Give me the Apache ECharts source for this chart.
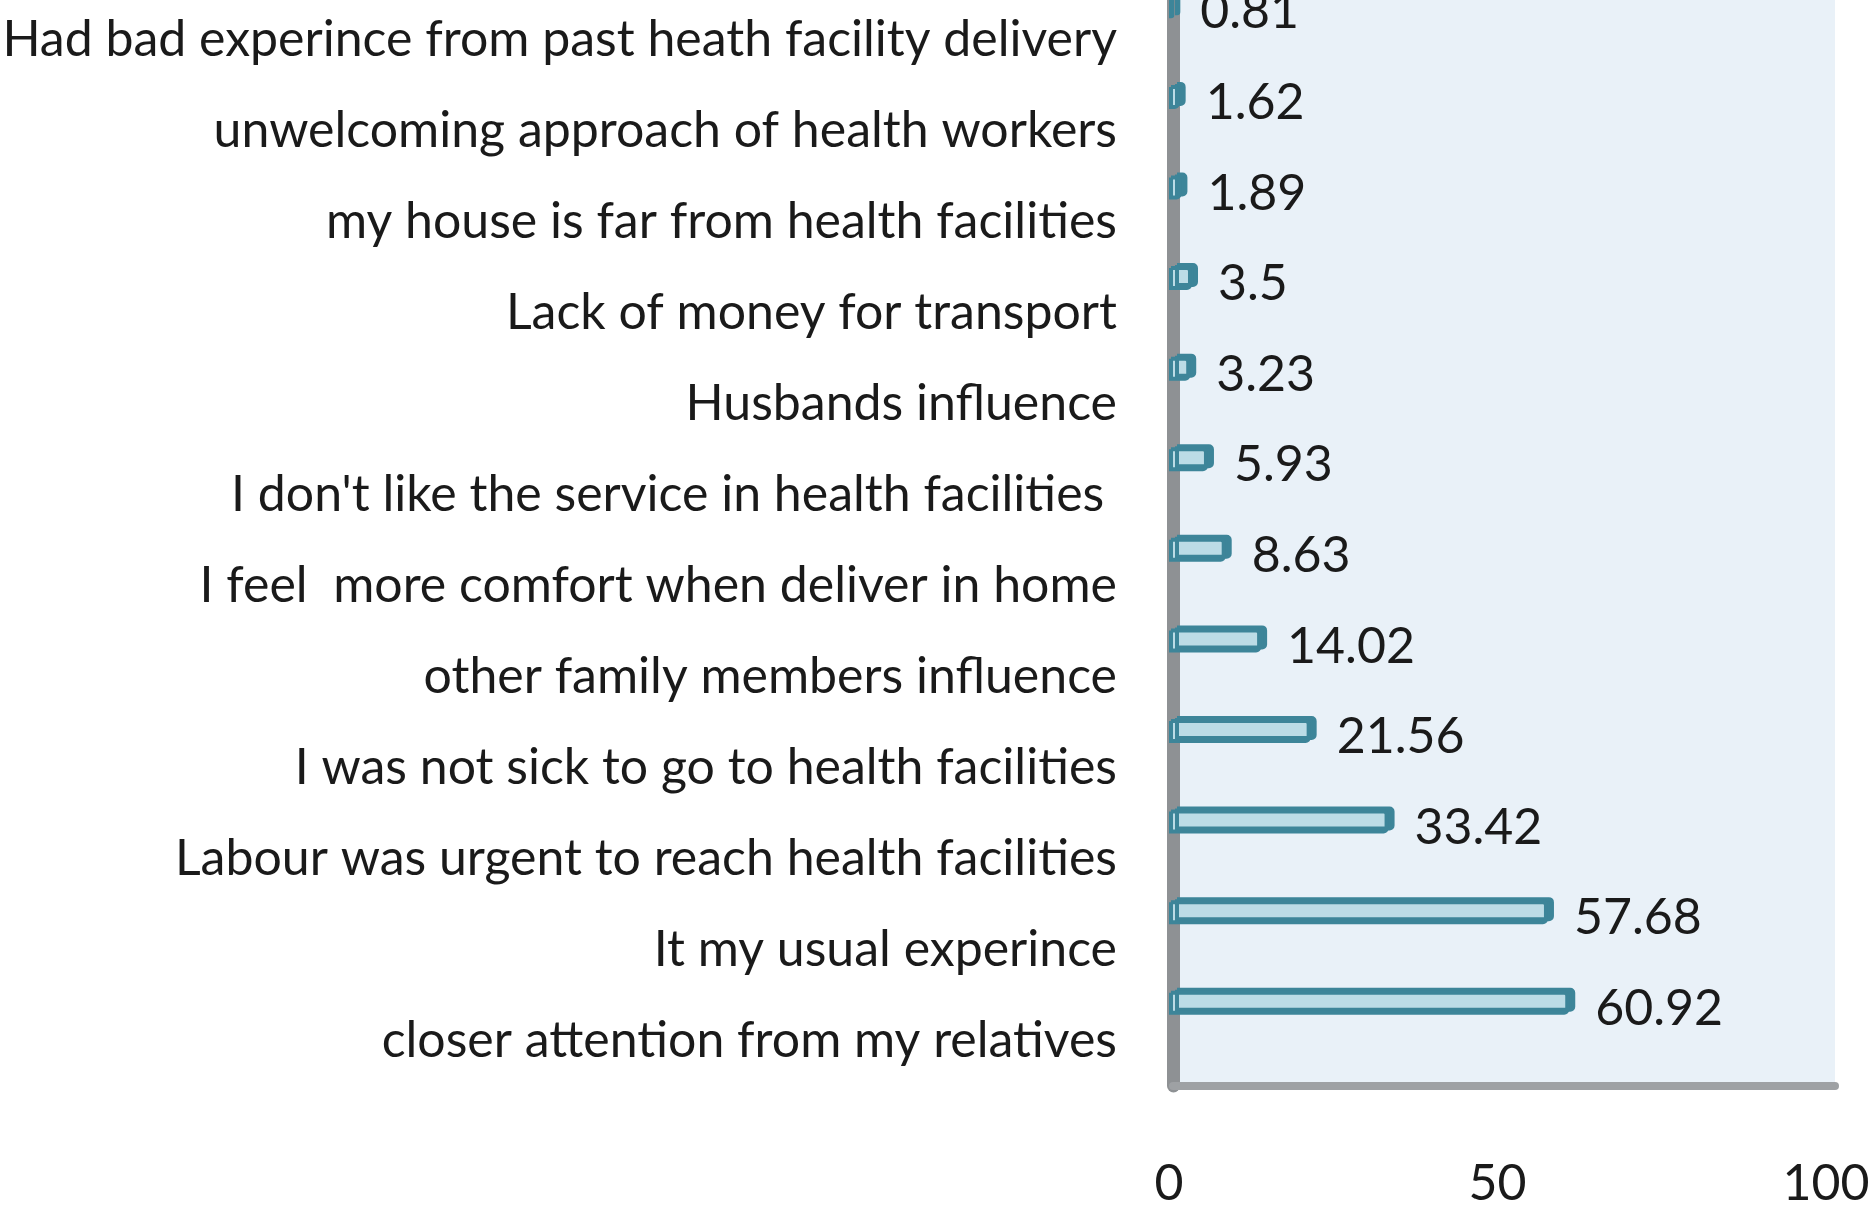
<!DOCTYPE html>
<html>
<head>
<meta charset="utf-8">
<script src="https://cdn.jsdelivr.net/npm/echarts@6/dist/echarts.min.js"></script>
<style>
  html, body { margin: 0; padding: 0; background: #fff; }
  #chart { width: 1868px; height: 1213px; }
</style>
</head>
<body>
<div id="chart"></div>
<script>
// reasons, top to bottom
var reasons = [
  "Had bad experince from past heath facility delivery",
  "unwelcoming approach of health workers",
  "my house is far from health facilities",
  "Lack of money for transport",
  "Husbands influence",
  "I don't like the service in health facilities ",
  "I feel  more comfort when deliver in home",
  "other family members influence",
  "I was not sick to go to health facilities",
  "Labour was urgent to reach health facilities",
  "It my usual experince",
  "closer attention from my relatives"
];
var percents = [0.81, 1.62, 1.89, 3.5, 3.23, 5.93, 8.63, 14.02, 21.56, 33.42, 57.68, 60.92];
var xTicks = [0, 50, 100];

var font = "Lato, 'Open Sans', sans-serif";

var myChart = echarts.init(document.getElementById("chart"));
myChart.setOption({
  animation: false,
  grid: [
    // back plane with wall + floor, carries the category labels
    { left: 1173, right: 33, top: -6, bottom: 127, show: true, containLabel: false,
      outerBoundsMode: "none", backgroundColor: "#E9F1F8", borderWidth: 0 },
    // bars sit a bit higher (3d depth)
    { left: 1169, right: 42, top: -39, bottom: 165, containLabel: false, outerBoundsMode: "none" }
  ],
  xAxis: [
    { gridIndex: 0, type: "value", min: 0, max: 100,
      axisLine: { show: true, onZero: false, lineStyle: { color: "#9EA1A4", width: 8 } },
      axisTick: { show: false }, axisLabel: { show: false }, splitLine: { show: false } },
    { gridIndex: 1, type: "value", min: xTicks[0], max: xTicks[xTicks.length - 1], interval: 50,
      axisLine: { show: false }, axisTick: { show: false }, splitLine: { show: false },
      axisLabel: { margin: 111, fontFamily: font, fontSize: 50, color: "#1a1a1a" } }
  ],
  yAxis: [
    { gridIndex: 0, type: "category", inverse: true, data: reasons,
      axisLine: { show: true, lineStyle: { color: "#8E9194", width: 13 } },
      axisTick: { show: false },
      axisLabel: { margin: 56, fontFamily: font, fontSize: 50, color: "#1a1a1a" } },
    { gridIndex: 1, type: "category", inverse: true, data: reasons, show: false }
  ],
  series: [
    {
      name: "percent",
      type: "bar",
      xAxisIndex: 1,
      yAxisIndex: 1,
      data: percents,
      barWidth: 24,
      itemStyle: {
        color: "#BCDCE6",
        borderColor: "#3D8599",
        borderWidth: 4,
        borderRadius: [0, 3, 3, 0],
        shadowColor: "#3D8599",
        shadowBlur: 0,
        shadowOffsetX: 6,
        shadowOffsetY: -3
      },
      label: {
        show: true,
        position: "right",
        distance: 26,
        offset: [0, 6],
        fontFamily: font,
        fontSize: 50,
        color: "#1a1a1a"
      }
    }
  ]
});
</script>
</body>
</html>
